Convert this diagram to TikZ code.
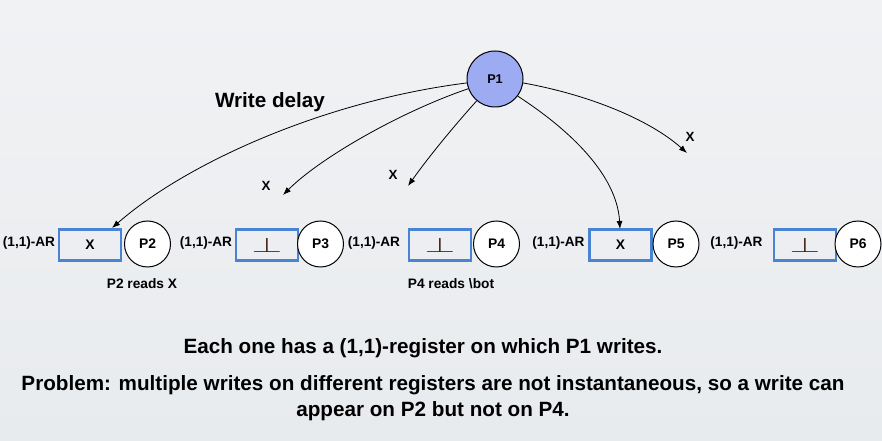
\documentclass[tikz,border=0pt]{standalone}
\usepackage{fontspec}
\usepackage{graphicx}
\setmainfont{Liberation Sans}
\usetikzlibrary{arrows.meta}
\definecolor{bgtop}{RGB}{241,242,244}
\definecolor{bgbot}{RGB}{232,235,238}
\definecolor{regblue}{RGB}{72,132,210}
\definecolor{pone}{RGB}{157,171,243}
\definecolor{botcol}{RGB}{70,30,15}
\tikzset{
  proc/.style={circle, draw=black, line width=0.75pt, fill=white, minimum size=34.5pt, inner sep=0pt, font=\fontsize{10.4}{12}\selectfont\bfseries},
  reg/.style={rectangle, draw=regblue, line width=1.9pt, minimum width=46.5pt, minimum height=23.25pt, inner sep=0pt, font=\fontsize{10.4}{12}\selectfont\bfseries},
  arlab/.style={font=\fontsize{10.2}{12}\selectfont\bfseries, inner sep=0pt},
  xlab/.style={font=\fontsize{10}{12}\selectfont\bfseries, inner sep=0pt},
  small/.style={font=\fontsize{10.3}{12}\selectfont\bfseries, inner sep=0pt},
  big/.style={font=\fontsize{15.5}{18}\selectfont\bfseries, inner sep=0pt},
  wr/.style={-{Latex[length=6pt,width=4.5pt]}, line width=0.6pt, black}
}
\newcommand{\regbot}{\raisebox{-3pt}{\resizebox{23pt}{11pt}{\color{botcol}$\bot$}}}
\begin{document}
\begin{tikzpicture}[x=0.75pt,y=-0.75pt]
\useasboundingbox (0,0) rectangle (882,441);
\shade[top color=bgtop, bottom color=bgbot] (0,0) rectangle (882,441);

\node[proc, fill=pone, minimum size=42pt, font=\fontsize{9.5}{11}\selectfont\bfseries] (p1) at (495,79) {P1};
\node[big] (wd) at (270,102) {Write delay};

% row
\node[arlab] (ar1) at (29,243) {(1,1)-AR};
\node[reg] (b1) at (90,245) {X};
\node[proc] (p2) at (147.5,244) {P2};

\node[arlab] (ar2) at (206,243) {(1,1)-AR};
\node[reg] (b2) at (267,245) {\regbot};
\node[proc] (p3) at (320.5,244) {P3};

\node[arlab] (ar3) at (374,243) {(1,1)-AR};
\node[reg] (b3) at (440,245) {\regbot};
\node[proc] (p4) at (496.5,244) {P4};

\node[arlab] (ar4) at (558.5,243) {(1,1)-AR};
\node[reg] (b4) at (620.5,245) {X};
\node[proc] (p5) at (676,244) {P5};

\node[arlab] (ar5) at (736.5,243) {(1,1)-AR};
\node[reg] (b5) at (805,245) {\regbot};
\node[proc] (p6) at (858,244) {P6};

\node[small] (r2) at (142,284) {P2 reads X};
\node[small] (r4) at (451,284) {P4 reads \textbackslash bot};

% in-flight labels
\node[xlab] (x2) at (266,186) {X};
\node[xlab] (x3) at (393,175) {X};
\node[xlab] (x5) at (690,137) {X};

\coordinate (e1) at (112,228);
\coordinate (e2) at (283,195);
\coordinate (e3) at (408,186);
\coordinate (e4) at (620,229);
\coordinate (e5) at (687,153);

\draw[wr] (p1.188) .. controls (330,100) and (190,160) .. (e1);
\draw[wr] (p1.200) .. controls (400,112) and (320,158) .. (e2);
\draw[wr] (p1.230) .. controls (455,125) and (430,155) .. (e3);
\draw[wr] (p1.323) .. controls (570,130) and (617,175) .. (e4);
\draw[wr] (p1.352) .. controls (590,95) and (650,120) .. (e5);

% bottom text
\node[big] (t1) at (423,348) {Each one has a (1,1)-register on which P1 writes.};
\node[big] (t2) at (433,385) {Problem: multiple writes on different registers are not instantaneous, so a write can};
\node[big] (t3) at (433,411) {appear on P2 but not on P4.};
\end{tikzpicture}
\end{document}
